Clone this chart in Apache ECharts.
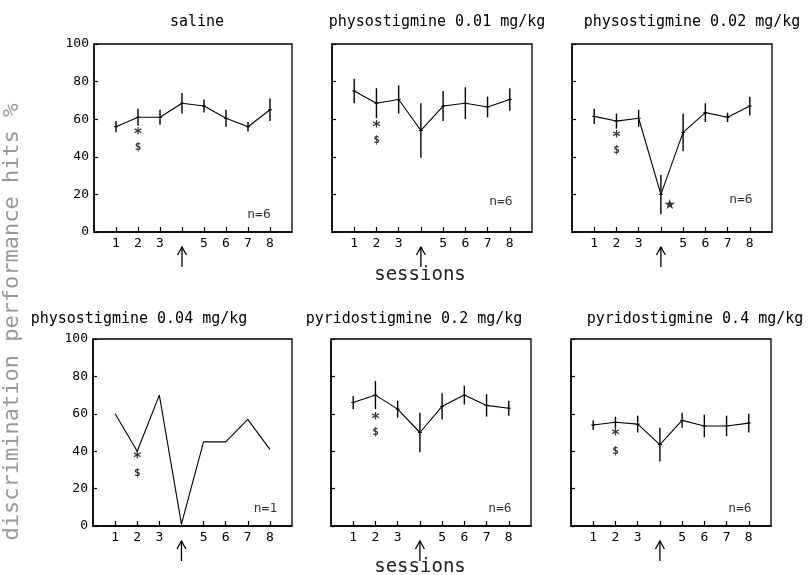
<!DOCTYPE html>
<html>
<head>
<meta charset="utf-8">
<script src="https://cdn.jsdelivr.net/npm/echarts@6/dist/echarts.min.js"></script>
<style>
  html, body { margin: 0; padding: 0; background: #fff; }
  #main { width: 809px; height: 575px; }
</style>
</head>
<body>
<div id="main"></div>
<script>
// sessions on the x axis (4 = drug session, marked with an arrow instead of a label)
const sessions = [1, 2, 3, 4, 5, 6, 7, 8];
const labeledSessions = [1, 2, 3, 5, 6, 7, 8];
const yTicks = [0, 20, 40, 60, 80, 100];

const panelTitles = [
  'saline',
  'physostigmine 0.01 mg/kg',
  'physostigmine 0.02 mg/kg',
  'physostigmine 0.04 mg/kg',
  'pyridostigmine 0.2 mg/kg',
  'pyridostigmine 0.4 mg/kg'
];
const panelN = ['n=6', 'n=6', 'n=6', 'n=1', 'n=6', 'n=6'];

// mean % hits per session, and the half-length of each error bar
const salineMean = [56, 61, 61, 68.5, 67, 60.5, 56, 65];
const salineErr = [3, 4.5, 4, 5.5, 3.5, 4.5, 2.5, 6];
const physo001Mean = [75, 68.5, 70.5, 54, 67, 68.5, 66.5, 70.5];
const physo001Err = [6.5, 8, 7.5, 14.5, 8, 8.5, 5.5, 6];
const physo002Mean = [61.5, 59, 60.5, 20, 53, 63.5, 61, 67];
const physo002Err = [4, 4, 4.5, 10.5, 10, 5, 2.5, 5];
const physo004Mean = [60, 40, 70, 1, 45, 45, 57, 41];
const physo004Err = null; // n=1, no error bars
const pyrido02Mean = [66, 70, 62.5, 50, 64, 70, 64.5, 63];
const pyrido02Err = [3.5, 7.5, 4.5, 10.5, 7, 5, 6, 4];
const pyrido04Mean = [54, 55.5, 54.5, 43.5, 56.5, 53.5, 53.5, 55];
const pyrido04Err = [2.5, 3, 4.5, 9, 4, 6, 5.5, 5];

// significance marks under session 2: [session, y of '*', y of '$']
const starMarks = [[2, 51.5, 45], [2, 55, 49], [2, 50, 43.5], [2, 36, 28.5], [2, 56.5, 50], [2, 48, 40]];
// extra star next to session 4 in panel 3
const bigStar = [4.4, 14];
// position of the n= label in data units
const nPos = [[7.5, 9], [7.6, 16], [7.6, 17], [7.8, 9.5], [7.6, 9.5], [7.6, 9.5]];

const means = [salineMean, physo001Mean, physo002Mean, physo004Mean, pyrido02Mean, pyrido04Mean];
const errs = [salineErr, physo001Err, physo002Err, physo004Err, pyrido02Err, pyrido04Err];

const mono = '"DejaVu Sans Mono", "Liberation Mono", monospace';

const grids = [
  { left: 94, top: 44, width: 198, height: 188 },
  { left: 332, top: 44, width: 200, height: 188 },
  { left: 572, top: 44, width: 200, height: 188 },
  { left: 93, top: 339, width: 199, height: 187 },
  { left: 331, top: 339, width: 200, height: 187 },
  { left: 571, top: 339, width: 200, height: 187 }
];
const titleCenters = [192, 432, 687, 134, 409, 690];

let xAxes = [], yAxes = [], series = [], titles = [];

grids.forEach((g, i) => {
  g.show = true;
  g.borderColor = '#000';
  g.borderWidth = 1.3;
  g.backgroundColor = 'transparent';

  xAxes.push({
    type: 'value', gridIndex: i, min: 0, max: 9, interval: 1,
    axisLine: { lineStyle: { color: '#000', width: 1.5 } },
    axisTick: { inside: true, length: 5, customValues: sessions, lineStyle: { color: '#000', width: 1.2 } },
    axisLabel: { customValues: labeledSessions, color: '#000', fontFamily: mono, fontSize: 13, margin: 5 },
    splitLine: { show: false }
  });
  yAxes.push({
    type: 'value', gridIndex: i, min: 0, max: 100, interval: 20,
    axisLine: { show: true, lineStyle: { color: '#000', width: 1.5 } },
    axisTick: { inside: true, length: 4, lineStyle: { color: '#000', width: 1.2 } },
    axisLabel: { show: i === 0 || i === 3, color: '#000', fontFamily: mono, fontSize: 13, margin: 5 },
    splitLine: { show: false }
  });

  titles.push({
    text: panelTitles[i],
    left: titleCenters[i], top: i < 3 ? 10 : 307, textAlign: 'center',
    textStyle: { fontFamily: mono, fontSize: 15, fontWeight: 'normal', color: '#000' }
  });

  // mean line
  series.push({
    type: 'line', xAxisIndex: i, yAxisIndex: i,
    data: sessions.map((s, k) => [s, means[i][k]]),
    symbol: 'none', silent: true, animation: false,
    lineStyle: { color: '#000', width: 1.1 }
  });

  // error bars
  if (errs[i]) {
    series.push({
      type: 'custom', xAxisIndex: i, yAxisIndex: i, animation: false, silent: true,
      data: sessions.map((s, k) => [s, means[i][k] - errs[i][k], means[i][k] + errs[i][k], means[i][k]]),
      renderItem: function (params, api) {
        const lo = api.coord([api.value(0), api.value(1)]);
        const hi = api.coord([api.value(0), api.value(2)]);
        const m = api.coord([api.value(0), api.value(3)]);
        return {
          type: 'group',
          children: [
            { type: 'line', shape: { x1: lo[0], y1: lo[1], x2: hi[0], y2: hi[1] }, style: { stroke: '#000', lineWidth: 1.4 } },
            { type: 'line', shape: { x1: m[0] - 2, y1: m[1], x2: m[0] + 2, y2: m[1] }, style: { stroke: '#000', lineWidth: 1 } }
          ]
        };
      }
    });
  }

  // arrow under session 4
  series.push({
    type: 'custom', xAxisIndex: i, yAxisIndex: i, animation: false, silent: true, clip: false,
    data: [[4, 0]],
    renderItem: function (params, api) {
      const p = api.coord([api.value(0), api.value(1)]);
      return {
        type: 'group',
        children: [
          { type: 'line', shape: { x1: p[0], y1: p[1] + 15, x2: p[0], y2: p[1] + 35 }, style: { stroke: '#000', lineWidth: 1.3 } },
          { type: 'polyline', shape: { points: [[p[0] - 4.5, p[1] + 23], [p[0], p[1] + 15], [p[0] + 4.5, p[1] + 23]] }, style: { stroke: '#000', fill: 'none', lineWidth: 1.3 } }
        ]
      };
    }
  });

  // '*' and '$' marks plus n= label
  const mk = starMarks[i];
  const notes = [
    { value: [mk[0], mk[1]], label: { formatter: '*', fontSize: 15, fontWeight: 'bold' } },
    { value: [mk[0], mk[2]], label: { formatter: '$', fontSize: 11, fontWeight: 'bold' } },
    { value: nPos[i], label: { formatter: panelN[i], fontSize: 13 } }
  ];
  if (i === 2) {
    notes.push({ value: bigStar, label: { formatter: '★', fontSize: 14, fontFamily: 'DejaVu Sans' } });
  }
  series.push({
    type: 'scatter', xAxisIndex: i, yAxisIndex: i, animation: false, silent: true,
    symbolSize: 0, data: notes,
    label: { show: true, position: 'inside', color: '#000', fontFamily: mono }
  });
});

titles.push(
  { text: 'sessions', left: 415, top: 261, textAlign: 'center',
    textStyle: { fontFamily: mono, fontSize: 19, fontWeight: 'normal', color: '#222' } },
  { text: 'sessions', left: 415, top: 553, textAlign: 'center',
    textStyle: { fontFamily: mono, fontSize: 19, fontWeight: 'normal', color: '#222' } }
);

const chart = echarts.init(document.getElementById('main'), null, { renderer: 'canvas' });
chart.setOption({
  animation: false,
  backgroundColor: '#fff',
  title: titles,
  grid: grids,
  xAxis: xAxes,
  yAxis: yAxes,
  series: series,
  graphic: [{
    type: 'text',
    x: 12, y: 322,
    rotation: Math.PI / 2,
    style: {
      text: 'discrimination performance hits %',
      fontFamily: mono, fontSize: 22, fill: '#999',
      align: 'center', verticalAlign: 'middle'
    }
  }]
});
window.addEventListener('resize', function () { chart.resize(); });
</script>
</body>
</html>
